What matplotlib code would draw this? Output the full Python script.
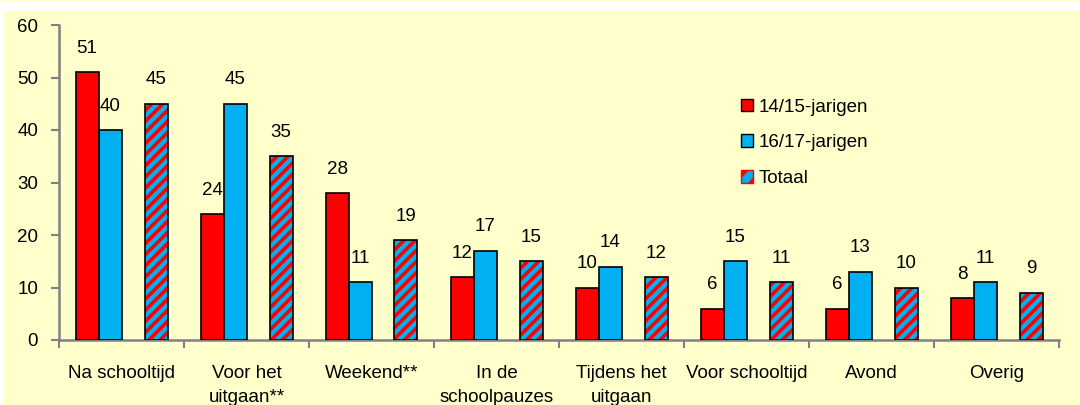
import matplotlib
matplotlib.use("Agg")
import matplotlib.pyplot as plt
import numpy as np
from matplotlib.patches import Rectangle, Patch

# data
categories = ["Na schooltijd", "Voor het\nuitgaan**", "Weekend**", "In de\nschoolpauzes",
              "Tijdens het\nuitgaan", "Voor schooltijd", "Avond", "Overig"]
jong = [51, 24, 28, 12, 10, 6, 6, 8]      # 14/15-jarigen
oud = [40, 45, 11, 17, 14, 15, 13, 11]    # 16/17-jarigen
totaal = [45, 35, 19, 15, 12, 11, 10, 9]
yticks = [0, 10, 20, 30, 40, 50, 60]

red = "#FF0000"
blue = "#00B0F0"
bg = "#FFFFCC"
grey = "#808080"

plt.rcParams['font.family'] = ['Liberation Sans', 'DejaVu Sans']
plt.rcParams['hatch.linewidth'] = 2.6
fs = 13.5

fig = plt.figure(figsize=(10.8, 4.05), dpi=100)
fig.patch.set_facecolor("white")
# yellow panel (behind the axes)
fig.patches.append(Rectangle((4 / 1080, 0), 1 - 4 / 1080, 1 - 11 / 405,
                             transform=fig.transFigure, facecolor=bg, edgecolor="none", zorder=-10))
fig.patches.append(Rectangle((0, 1 - 1 / 405), 1, 1 / 405,
                             transform=fig.transFigure, facecolor=bg, edgecolor="none", zorder=-10))

ax = fig.add_axes([59 / 1080, 1 - 340 / 405, 1000 / 1080, 315 / 405])
ax.set_facecolor("none")

x = np.arange(len(categories))
w = 0.184

b1 = ax.bar(x - 1.5 * w, jong, w, color=red, edgecolor="black", linewidth=1.2, zorder=3)
b2 = ax.bar(x - 0.5 * w, oud, w, color=blue, edgecolor="black", linewidth=1.2, zorder=3)
# hatched total: blue fill with red stripes, black outline on top
ax.bar(x + 1.5 * w, totaal, w, color=blue, edgecolor=red, hatch="///", linewidth=0, zorder=3)
b3 = ax.bar(x + 1.5 * w, totaal, w, fill=False, edgecolor="black", linewidth=1.2, zorder=4)

for bars, vals in [(b1, jong), (b2, oud), (b3, totaal)]:
    for rect, v in zip(bars, vals):
        ax.annotate(str(v), (rect.get_x() + rect.get_width() / 2, v),
                    xytext=(0, 11), textcoords="offset points",
                    ha="center", va="bottom", fontsize=fs)

ax.set_xlim(-0.5, len(categories) - 0.5)
ax.set_ylim(0, 60)
ax.set_yticks(yticks)
ax.set_xticks(np.arange(len(categories) + 1) - 0.5)
ax.set_xticklabels([])
ax.set_xticks(x, minor=True)
ax.set_xticklabels(categories, minor=True, fontsize=fs, linespacing=1.55)
ax.tick_params(axis="x", which="minor", length=0, pad=18)
ax.tick_params(axis="x", which="major", length=6, width=1.5, color=grey, direction="out")
ax.tick_params(axis="y", length=6, width=1.5, color=grey, labelsize=fs, pad=9)

for s in ["top", "right"]:
    ax.spines[s].set_visible(False)
for s in ["left", "bottom"]:
    ax.spines[s].set_color(grey)
    ax.spines[s].set_linewidth(1.8)

handles = [Patch(facecolor=red, edgecolor="black"),
           Patch(facecolor=blue, edgecolor="black"),
           Patch(facecolor=blue, edgecolor=red, hatch="//")]
leg = ax.legend(handles, ["14/15-jarigen", "16/17-jarigen", "Totaal"],
                loc="upper left", bbox_to_anchor=(0.665, 0.82), frameon=False,
                fontsize=fs, handlelength=0.65, handleheight=0.65, handletextpad=0.3,
                labelspacing=1.0)

fig.savefig("out.png", dpi=100, facecolor=fig.get_facecolor())
